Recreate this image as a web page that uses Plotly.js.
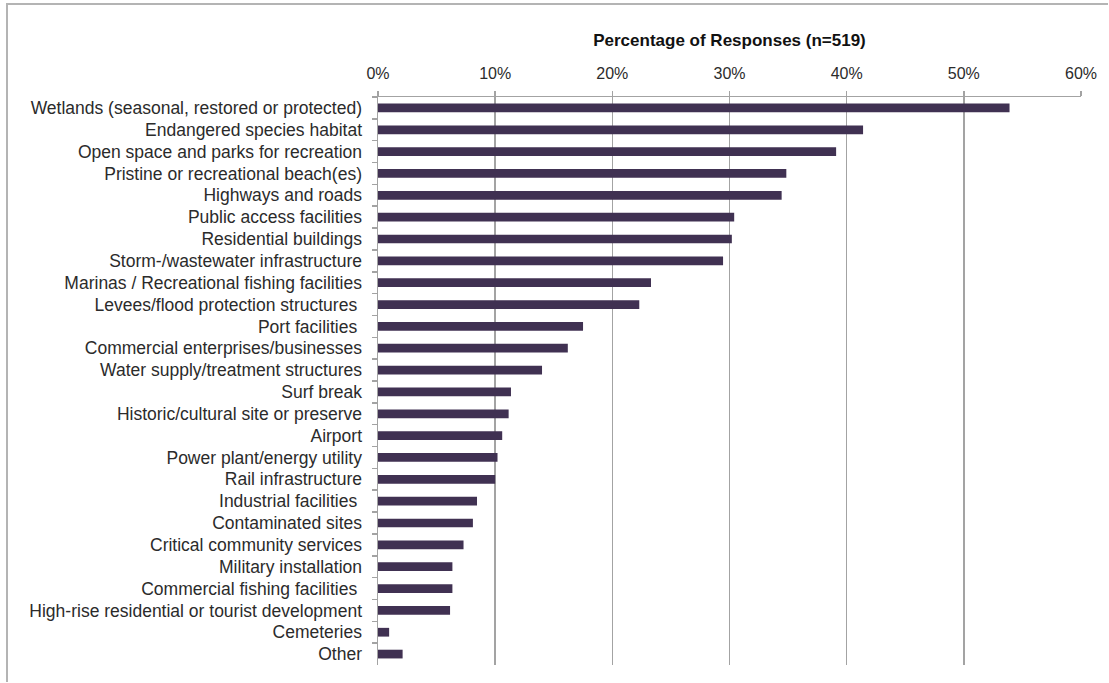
<!DOCTYPE html>
<html>
<head>
<meta charset="utf-8">
<script src="https://cdn.plot.ly/plotly-3.0.1.min.js"></script>
<style>
  html, body { margin: 0; padding: 0; background: #fff; }
  #frame { position: absolute; left: 6px; top: 3px; border-top: 2px solid #b4b4b4; border-left: 2px solid #b4b4b4; }
</style>
</head>
<body>
<div id="frame"><div id="chart"></div></div>
<script>
const categories = [
  "Wetlands (seasonal, restored or protected)",
  "Endangered species habitat",
  "Open space and parks for recreation",
  "Pristine or recreational beach(es)",
  "Highways and roads",
  "Public access facilities",
  "Residential buildings",
  "Storm-/wastewater infrastructure",
  "Marinas / Recreational fishing facilities",
  "Levees/flood protection structures\u00a0",
  "Port facilities\u00a0",
  "Commercial enterprises/businesses",
  "Water supply/treatment structures",
  "Surf break",
  "Historic/cultural site or preserve",
  "Airport",
  "Power plant/energy utility",
  "Rail infrastructure",
  "Industrial facilities\u00a0",
  "Contaminated sites",
  "Critical community services",
  "Military installation",
  "Commercial fishing facilities\u00a0",
  "High-rise residential or tourist development",
  "Cemeteries",
  "Other"
];
const percentages = [
  53.9, 41.4, 39.1, 34.85, 34.45, 30.4, 30.2, 29.45, 23.3, 22.3,
  17.5, 16.2, 14.0, 11.35, 11.15, 10.6, 10.2, 10.0, 8.45, 8.1,
  7.3, 6.35, 6.35, 6.15, 0.95, 2.1
];
const tickValues = [0, 10, 20, 30, 40, 50, 60];
const tickLabels = ["0%", "10%", "20%", "30%", "40%", "50%", "60%"];
const chartTitle = "Percentage of Responses (n=519)";

const trace = {
  type: "bar",
  orientation: "h",
  x: percentages,
  y: categories,
  marker: { color: "#403152", line: { width: 0 } },
  hoverinfo: "x+y"
};

const W = 1100, H = 677;
const FONT = "Liberation Sans, Arial, sans-serif";
const layout = {
  width: W, height: H,
  margin: { l: 369.5, r: 27, t: 92, b: 17 },
  paper_bgcolor: "#fff",
  plot_bgcolor: "#fff",
  showlegend: false,
  bargap: 0.6,
  font: { family: FONT, size: 17.5, color: "#2b2b2b" },
  title: {
    text: "<b>" + chartTitle + "</b>",
    font: { family: FONT, size: 17, color: "#111" },
    xref: "paper", x: 0.5, xanchor: "center",
    yref: "container", y: 1 - 35 / H, yanchor: "middle"
  },
  xaxis: {
    side: "top",
    range: [0, 60],
    tickvals: tickValues,
    ticktext: tickLabels,
    showgrid: true,
    gridcolor: "#a3a3a3",
    gridwidth: 1.5,
    zeroline: false,
    showline: true,
    linecolor: "#a3a3a3",
    linewidth: 1.5,
    ticks: "outside",
    ticklen: 5,
    tickcolor: "#a3a3a3",
    tickwidth: 1.5,
    ticklabelstandoff: 5,
    tickfont: { family: FONT, size: 16, color: "#2b2b2b" },
    fixedrange: true
  },
  yaxis: {
    type: "category",
    autorange: "reversed",
    showgrid: false,
    zeroline: false,
    showline: true,
    linecolor: "#a3a3a3",
    linewidth: 1.5,
    ticks: "outside",
    tickson: "boundaries",
    ticklen: 5,
    tickcolor: "#a3a3a3",
    tickwidth: 1.5,
    ticklabelstandoff: 11,
    tickfont: { family: FONT, size: 17.5, color: "#2b2b2b" },
    fixedrange: true
  }
};

Plotly.newPlot("chart", [trace], layout, { displayModeBar: false, staticPlot: true });
</script>
</body>
</html>
